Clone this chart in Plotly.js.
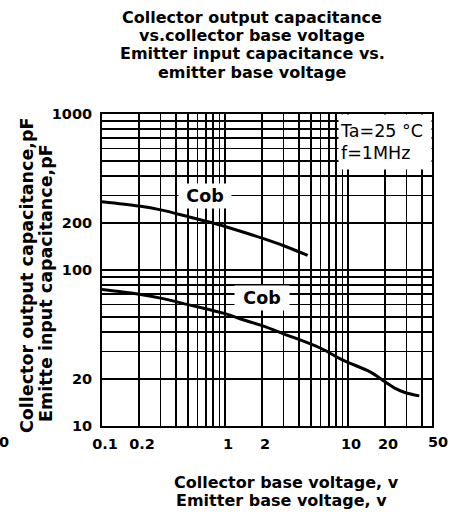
<!DOCTYPE html>
<html>
<head>
<meta charset="utf-8">
<script src="https://cdn.plot.ly/plotly-3.0.1.min.js"></script>
<style>html,body{margin:0;padding:0;background:#fff;}#chart{width:465px;height:517px;}</style>
</head>
<body>
<div id="chart"></div>
<script>
// Data
const upperV = [0.1, 0.2, 0.3, 0.5, 0.8, 1, 2, 3, 4.7];
const upperC = [274, 257, 243, 220, 200, 190, 160, 143, 124];
const lowerV = [0.1, 0.2, 0.3, 0.5, 1, 1.4, 2, 3, 6, 9, 15, 20, 24, 29, 38];
const lowerC = [75, 70, 66, 60, 52.5, 48, 44, 39, 31.5, 26.5, 22.3, 19.2, 17.5, 16.4, 15.6];

const xGridVals = [0.1,0.2,0.3,0.4,0.5,0.6,0.7,0.8,0.9,1,2,3,4,5,6,7,8,9,10,20,30,40];
const xLabeled = ['0.1','0.2','1','2','10','20'];
const xEndLabel = '50';
const yGridVals = [10,20,30,40,50,60,70,80,90,100,200,300,400,500,600,700,800,900,1000];
const yLabeled = ['10','20','100','200','1000'];

const titleLines = ['Collector output capacitance','vs.collector base voltage','Emitter input capacitance vs.','emitter base voltage'];
const xTitleLines = ['Collector base voltage, v','Emitter base voltage, v'];
const yTitleLines = ['Collector output capacitance,pF','Emitte input capacitance,pF'];
const curveLabel = 'Cob';
const condText = 'Ta=25 °C<br>f=1MHz';

const W = 465, H = 517;
const M = {l:102, r:33, t:114, b:91};
const PW = W - M.l - M.r, PH = H - M.t - M.b;
const px = x => (x - M.l) / PW;
const py = y => (H - M.b - y) / PH;

const FAM = 'DejaVu Sans, sans-serif';
const boldFont = s => ({family: FAM, size: s, color: '#000', weight: 'bold'});

const traces = [
  {x: upperV, y: upperC, mode: 'lines', line: {color: '#000', width: 3, shape: 'spline'}, hoverinfo: 'skip'},
  {x: lowerV, y: lowerC, mode: 'lines', line: {color: '#000', width: 3, shape: 'spline'}, hoverinfo: 'skip'}
];

const annotations = [];
const titleY = [17, 35, 53, 72];
titleLines.forEach((t, i) => annotations.push({xref:'paper', yref:'paper', x: px(252), y: py(titleY[i]), text: t, showarrow:false, xanchor:'center', yanchor:'middle', font: boldFont(16)}));
const xtY = [482, 500], xtX = [286, 281];
xTitleLines.forEach((t, i) => annotations.push({xref:'paper', yref:'paper', x: px(xtX[i]), y: py(xtY[i]), text: t, showarrow:false, xanchor:'center', yanchor:'middle', font: boldFont(16)}));
const ytX = [27, 46], ytY = [276, 283];
yTitleLines.forEach((t, i) => annotations.push({xref:'paper', yref:'paper', x: px(ytX[i]), y: py(ytY[i]), text: t, showarrow:false, textangle:-90, xanchor:'center', yanchor:'middle', font: boldFont(17.5)}));

// curve labels (white boxes)
annotations.push({xref:'x', yref:'y', x: Math.log10(0.69), y: Math.log10(300), text: curveLabel, showarrow:false, bgcolor:'#fff', width:50, height:22, font: boldFont(17.5)});
annotations.push({xref:'x', yref:'y', x: Math.log10(2.0), y: Math.log10(66), text: curveLabel, showarrow:false, bgcolor:'#fff', width:52, height:22, font: boldFont(17.5)});
// conditions box
annotations.push({xref:'paper', yref:'paper', x: 1, y: 1, xanchor:'right', yanchor:'top', text: condText, showarrow:false, bgcolor:'#fff', width:90, height:52, align:'left', valign:'middle', borderpad:1, font: {family: FAM, size: 17.5, color:'#000'}});
// end-of-axis x tick label
annotations.push({xref:'paper', yref:'paper', x: px(438), y: py(442), text: xEndLabel, showarrow:false, xanchor:'center', yanchor:'middle', font: boldFont(14.5)});
// stray clipped label at left edge
annotations.push({xref:'paper', yref:'paper', x: px(4), y: py(442), text: '0', showarrow:false, xanchor:'center', yanchor:'middle', font: boldFont(14.5)});

const layout = {
  width: W, height: H,
  margin: M,
  paper_bgcolor: '#fff', plot_bgcolor: '#fff',
  showlegend: false,
  xaxis: {
    type: 'log', range: [-1, Math.log10(48.2)],
    tickvals: xGridVals,
    ticktext: xGridVals.map(v => xLabeled.includes(String(v)) ? String(v) : ''),
    ticks: '', showgrid: true, gridcolor: '#000', gridwidth: 1.4,
    showline: true, linecolor: '#000', linewidth: 2, mirror: true,
    zeroline: false, tickfont: boldFont(14.5), ticklabelstandoff: 4, ticklabelshift: 3
  },
  yaxis: {
    type: 'log', range: [1, 3],
    tickvals: yGridVals,
    ticktext: yGridVals.map(v => yLabeled.includes(String(v)) ? String(v) : ''),
    ticks: '', showgrid: true, gridcolor: '#000', gridwidth: 1.4,
    showline: true, linecolor: '#000', linewidth: 2, mirror: true,
    zeroline: false, tickfont: boldFont(14.5), ticklabelstandoff: 5
  },
  annotations: annotations
};

Plotly.newPlot('chart', traces, layout, {displayModeBar: false, staticPlot: true});
</script>
</body>
</html>
